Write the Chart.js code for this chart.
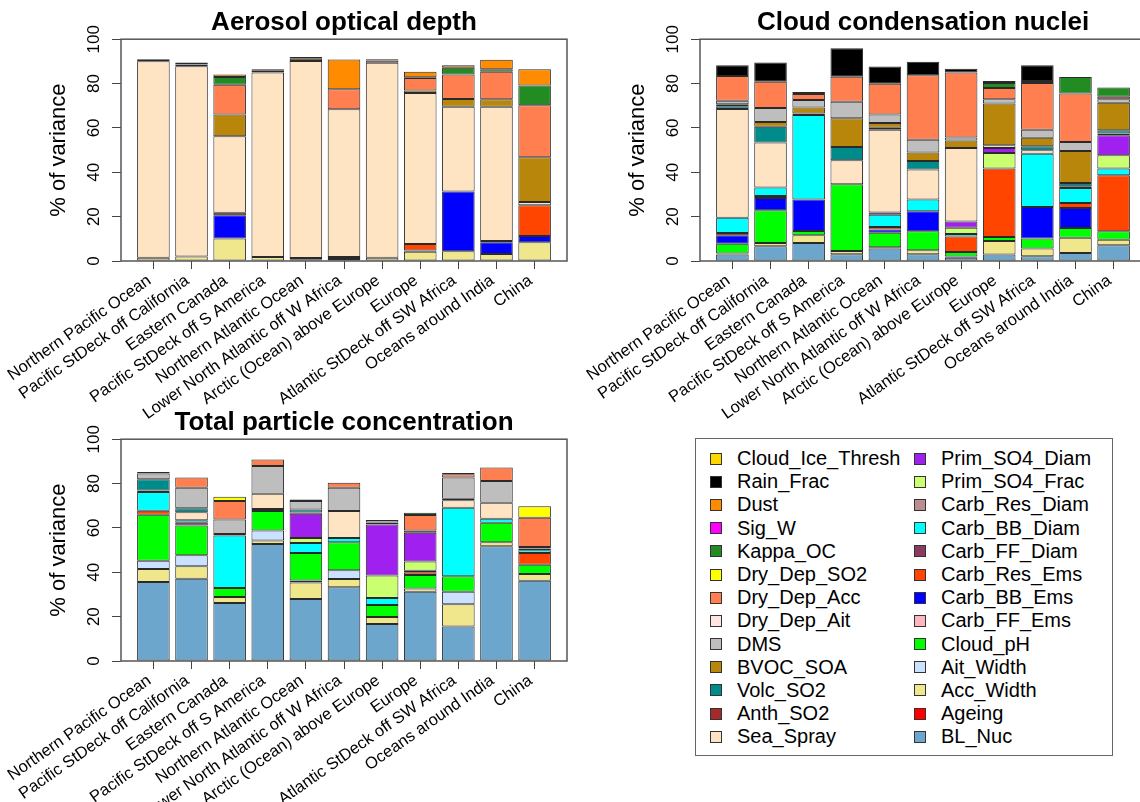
<!DOCTYPE html>
<html>
<head>
<meta charset="utf-8">
<script src="https://cdn.jsdelivr.net/npm/chart.js@4/dist/chart.umd.min.js"></script>
<style>
  html, body { margin: 0; padding: 0; background: #fff; width: 1140px; height: 802px; overflow: hidden; }
  .panel { position: absolute; }
  #legend {
    position: absolute; left: 695px; top: 438px; width: 418px; height: 318px;
    box-sizing: border-box; border: 1.5px solid #666;
    padding: 8px 0 0 14px;
    display: grid; grid-auto-flow: column;
    grid-template-rows: repeat(13, 23.2px);
    grid-template-columns: 204px 1fr;
    font-family: "Liberation Sans", Arial, sans-serif; font-size: 20px; color: #000;
  }
  .item { display: flex; align-items: center; white-space: nowrap; }
  .swatch { width: 10px; height: 10px; border: 1px solid #333; margin-right: 15px; flex: none; }
</style>
</head>
<body>
<canvas id="aod" class="panel" width="570" height="430" style="left:0;top:0"></canvas>
<canvas id="ccn" class="panel" width="570" height="430" style="left:579px;top:0"></canvas>
<canvas id="tpc" class="panel" width="570" height="402" style="left:0;top:400px"></canvas>
<div id="legend"></div>
<script>
// Regions along the x axis
const regions = [
  'Northern Pacific Ocean', 'Pacific StDeck off California', 'Eastern Canada',
  'Pacific StDeck off S America', 'Northern Atlantic Ocean', 'Lower North Atlantic off W Africa',
  'Arctic (Ocean) above Europe', 'Europe', 'Atlantic StDeck off SW Africa',
  'Oceans around India', 'China'
];

// Uncertain parameters, in stacking order (bottom of each bar first)
const parameters = [
  'BL_Nuc', 'Ageing', 'Acc_Width', 'Ait_Width', 'Cloud_pH', 'Carb_FF_Ems', 'Carb_BB_Ems',
  'Carb_Res_Ems', 'Carb_FF_Diam', 'Carb_BB_Diam', 'Carb_Res_Diam', 'Prim_SO4_Frac',
  'Prim_SO4_Diam', 'Sea_Spray', 'Anth_SO2', 'Volc_SO2', 'BVOC_SOA', 'DMS', 'Dry_Dep_Ait',
  'Dry_Dep_Acc', 'Dry_Dep_SO2', 'Kappa_OC', 'Sig_W', 'Dust', 'Rain_Frac', 'Cloud_Ice_Thresh'
];
const paramColours = [
  '#6CA6CD', '#FF0000', '#F0E68C', '#CAE1FF', '#00FF00', '#FFB6C1', '#0000FF',
  '#FF4500', '#8B3A62', '#00FFFF', '#BC8F8F', '#CAFF70',
  '#A020F0', '#FFE4C4', '#A52A2A', '#008B8B', '#B8860B', '#BEBEBE', '#FFE4E1',
  '#FF7F50', '#FFFF00', '#228B22', '#FF00FF', '#FF8C00', '#000000', '#FFD700'
];

const yTicks = [0, 20, 40, 60, 80, 100];

// % of variance per parameter and region (parameters not listed contribute nothing)
const aodShares = {
  Acc_Width:    [1.5, 2.0, 10.2, 1.8, 0.6, 0.9, 1.5, 4.2, 4.4, 3.2, 8.5],
  Carb_BB_Ems:  [0, 0, 10.4, 0, 0, 0.9, 0, 0.5, 26.9, 5.2, 2.8],
  Carb_Res_Ems: [0, 0, 0, 0, 0, 0, 0, 3.0, 0, 0, 13.8],
  Carb_FF_Diam: [0, 0, 1.2, 0, 0.8, 0, 0, 0, 0, 0.6, 0],
  Sea_Spray:    [88.6, 85.8, 34.4, 83.2, 88.8, 66.6, 87.9, 68.0, 38.3, 60.6, 1.5],
  BVOC_SOA:     [0, 0, 9.8, 0.8, 1.0, 0, 0, 1.2, 3.4, 3.3, 20.2],
  Dry_Dep_Acc:  [0, 0.8, 13.5, 0.7, 0.8, 9.0, 1.0, 5.6, 11.1, 12.4, 23.4],
  Kappa_OC:     [0, 0, 3.5, 0, 0, 0, 0, 0.4, 3.0, 1.2, 8.9],
  Dust:         [0, 0, 1.1, 0, 0, 13.4, 0, 2.4, 1.2, 4.2, 7.4],
  Rain_Frac:    [0.9, 0.9, 0, 0, 0, 0, 0.6, 0, 0, 0, 0]
};

const ccnShares = {
  BL_Nuc:        [2.9, 6.6, 8.1, 3.0, 5.6, 3.0, 1.5, 2.9, 2.1, 3.6, 7.1],
  Ageing:        [0, 0, 0, 0, 0.6, 0, 0, 0, 0, 0, 0],
  Acc_Width:     [0.5, 1.5, 3.5, 1.5, 0, 1.8, 0.5, 6.1, 3.5, 6.9, 2.5],
  Cloud_pH:      [4.4, 14.8, 1.9, 30.1, 6.5, 8.6, 2.1, 1.8, 4.5, 4.4, 3.8],
  Carb_BB_Ems:   [3.8, 5.5, 14.2, 0, 1.5, 9.0, 0, 0, 14.3, 9.0, 0],
  Carb_Res_Ems:  [1.0, 0, 0, 0, 1.1, 0, 7.0, 30.9, 0, 2.3, 25.3],
  Carb_FF_Diam:  [0, 0.9, 0, 0, 0, 0, 0, 0, 0, 0, 0],
  Carb_BB_Diam:  [6.9, 3.8, 38.1, 0, 5.5, 5.3, 1.1, 0, 24.0, 6.7, 3.0],
  Prim_SO4_Frac: [0, 0, 0, 0, 0, 0, 2.8, 7.0, 0, 0, 6.0],
  Prim_SO4_Diam: [0, 0, 0, 0, 1.1, 0, 2.8, 2.3, 0, 0, 9.0],
  Sea_Spray:     [49.0, 20.3, 0, 10.8, 37.3, 13.5, 33.1, 1.2, 1.5, 0.8, 0.8],
  Volc_SO2:      [1.3, 7.1, 0.7, 6.0, 0.9, 3.9, 0, 0, 1.8, 1.5, 1.5],
  BVOC_SOA:      [0.9, 2.2, 2.7, 13.0, 2.1, 3.8, 3.4, 18.8, 3.9, 14.4, 12.4],
  DMS:           [1.5, 6.3, 3.4, 7.4, 3.9, 5.8, 1.4, 1.9, 3.6, 4.1, 1.5],
  Dry_Dep_Acc:   [11.2, 11.8, 2.7, 11.3, 13.8, 29.1, 29.3, 5.1, 21.1, 21.8, 1.1],
  Kappa_OC:      [0, 0, 0, 0, 0, 0, 0, 2.3, 0.9, 7.5, 4.2],
  Rain_Frac:     [4.9, 8.7, 0.9, 12.8, 7.8, 6.0, 1.7, 0.9, 7.1, 0, 0]
};

const tpcShares = {
  BL_Nuc:        [35.6, 37.1, 26.1, 52.8, 27.9, 33.2, 16.7, 31.2, 15.5, 51.7, 36.2],
  Acc_Width:     [5.9, 5.6, 2.7, 1.5, 7.5, 3.8, 3.1, 1.5, 10.1, 1.8, 3.0],
  Ait_Width:     [3.7, 5.0, 0, 4.5, 0.9, 3.9, 0, 0, 5.6, 0, 0],
  Cloud_pH:      [20.7, 13.4, 4.1, 8.8, 12.4, 12.6, 5.5, 6.1, 7.0, 8.8, 4.2],
  Carb_Res_Ems:  [1.8, 0, 0, 0, 0, 0, 0, 1.2, 0, 0, 5.3],
  Carb_FF_Diam:  [0, 1.2, 0, 0.9, 0, 0, 0, 0, 0, 0, 0],
  Carb_BB_Diam:  [8.5, 1.2, 23.7, 0, 4.5, 2.0, 3.1, 0.7, 30.9, 1.8, 1.2],
  Prim_SO4_Frac: [0, 0, 0, 0, 2.3, 0, 10.2, 4.2, 0, 0, 0],
  Prim_SO4_Diam: [0, 0, 0, 0, 10.9, 0, 22.9, 12.9, 0, 0, 0],
  Sea_Spray:     [0, 3.6, 0, 6.9, 0.5, 12.1, 0, 0, 3.4, 7.2, 0],
  Anth_SO2:      [0.7, 0, 0.7, 0, 0, 0, 0.9, 1.0, 0.6, 0, 0.8],
  Volc_SO2:      [5.0, 1.8, 0, 0, 1.4, 0, 0, 0, 0, 0, 0.7],
  DMS:           [2.6, 9.2, 6.5, 12.5, 3.8, 10.5, 1.2, 0, 9.6, 9.8, 0],
  Dry_Dep_Acc:   [0, 4.6, 8.3, 3.0, 0.7, 2.3, 0, 7.0, 1.5, 6.1, 13.2],
  Dry_Dep_SO2:   [0, 0, 2.0, 0, 0, 0, 0, 0, 0, 0, 5.2],
  Kappa_OC:      [0, 0, 0, 0, 0, 0, 0, 1.0, 0, 0, 0],
  Rain_Frac:     [0.7, 0, 0, 0, 0, 0, 0, 0, 0.6, 0, 0]
};

const FONT = '"Liberation Sans", Arial, Helvetica, sans-serif';

// Bars of unit width separated by gaps of 0.2 units; the frame adds 4% of the span on each side
const BAR_STEP = 1.2, BAR_WIDTH = 1, GAP = 0.2;
const spanLo = GAP, spanHi = regions.length * BAR_STEP;
const pad = 0.04 * (spanHi - spanLo);
const barCentre = i => GAP + i * BAR_STEP + BAR_WIDTH / 2;

// Frame round the plotting region, plus upright y tick labels
const frameAndYLabels = {
  id: 'frameAndYLabels',
  afterDraw(chart) {
    const { ctx, chartArea: a } = chart;
    const y = chart.scales.y;
    ctx.save();
    ctx.strokeStyle = '#555';
    ctx.lineWidth = 1.5;
    ctx.strokeRect(a.left, a.top, a.right - a.left, a.bottom - a.top);
    ctx.fillStyle = '#000';
    ctx.font = '17px ' + FONT;
    ctx.textAlign = 'center';
    ctx.textBaseline = 'alphabetic';
    y.ticks.forEach(t => {
      ctx.save();
      ctx.translate(a.left - 22, y.getPixelForValue(t.value));
      ctx.rotate(-Math.PI / 2);
      ctx.fillText(String(t.value), 0, 0);
      ctx.restore();
    });
    ctx.restore();
  }
};

// canvasHeight - 261 leaves the plotting region 39..261 px inside each canvas
function drawPanel(canvasId, title, shares) {
  const canvas = document.getElementById(canvasId);
  const axisBand = canvas.height - 261;
  const datasets = parameters.map((name, k) => {
    const vals = shares[name] || regions.map(() => 0);
    return {
      label: name,
      data: regions.map((_, i) => ({ x: barCentre(i), y: vals[i] })),
      backgroundColor: paramColours[k],
      borderColor: '#2a2a2a',
      borderWidth: 1,
      borderSkipped: false,
      barPercentage: 0.855,
      categoryPercentage: 1
    };
  });

  return new Chart(canvas, {
    type: 'bar',
    data: { datasets },
    plugins: [frameAndYLabels],
    options: {
      responsive: false,
      animation: false,
      devicePixelRatio: 1,
      layout: { padding: { left: 0, right: 3, top: 0, bottom: 0 } },
      plugins: {
        legend: { display: false },
        tooltip: { enabled: false },
        title: {
          display: true, text: title, color: '#000', fullSize: false,
          font: { family: FONT, size: 26, weight: 'bold', lineHeight: 1.2 },
          padding: { top: 7, bottom: 1 }
        }
      },
      scales: {
        x: {
          type: 'linear', stacked: true, offset: false,
          min: spanLo - pad, max: spanHi + pad,
          afterBuildTicks: s => { s.ticks = regions.map((_, i) => ({ value: barCentre(i) })); },
          afterFit: s => { s.height = axisBand; },
          border: { display: false },
          grid: { display: true, drawOnChartArea: false, drawTicks: true, tickLength: 8, color: '#444', offset: false },
          ticks: {
            autoSkip: false, minRotation: 35, maxRotation: 35, padding: 2, labelOffset: -4, color: '#000',
            font: { family: FONT, size: 16.5 },
            callback: (v, i) => regions[i]
          }
        },
        y: {
          type: 'linear', stacked: true, min: 0, max: 100,
          afterBuildTicks: s => { s.ticks = yTicks.map(v => ({ value: v })); },
          afterFit: s => { s.width = 121; },
          border: { display: false },
          grid: { drawOnChartArea: false, drawTicks: true, tickLength: 9, color: '#444' },
          ticks: { display: false },
          title: {
            display: true, text: '% of variance', color: '#000',
            font: { family: FONT, size: 22 },
            padding: { top: 46, bottom: 0 }
          }
        }
      }
    }
  });
}

drawPanel('aod', 'Aerosol optical depth', aodShares);
drawPanel('ccn', 'Cloud condensation nuclei', ccnShares);
drawPanel('tpc', 'Total particle concentration', tpcShares);

// Two-column key, top of the stack first
const legend = document.getElementById('legend');
parameters.slice().reverse().forEach(name => {
  const k = parameters.indexOf(name);
  const item = document.createElement('div');
  item.className = 'item';
  const sw = document.createElement('span');
  sw.className = 'swatch';
  sw.style.background = paramColours[k];
  const label = document.createElement('span');
  label.textContent = name;
  item.appendChild(sw);
  item.appendChild(label);
  legend.appendChild(item);
});
</script>
</body>
</html>
